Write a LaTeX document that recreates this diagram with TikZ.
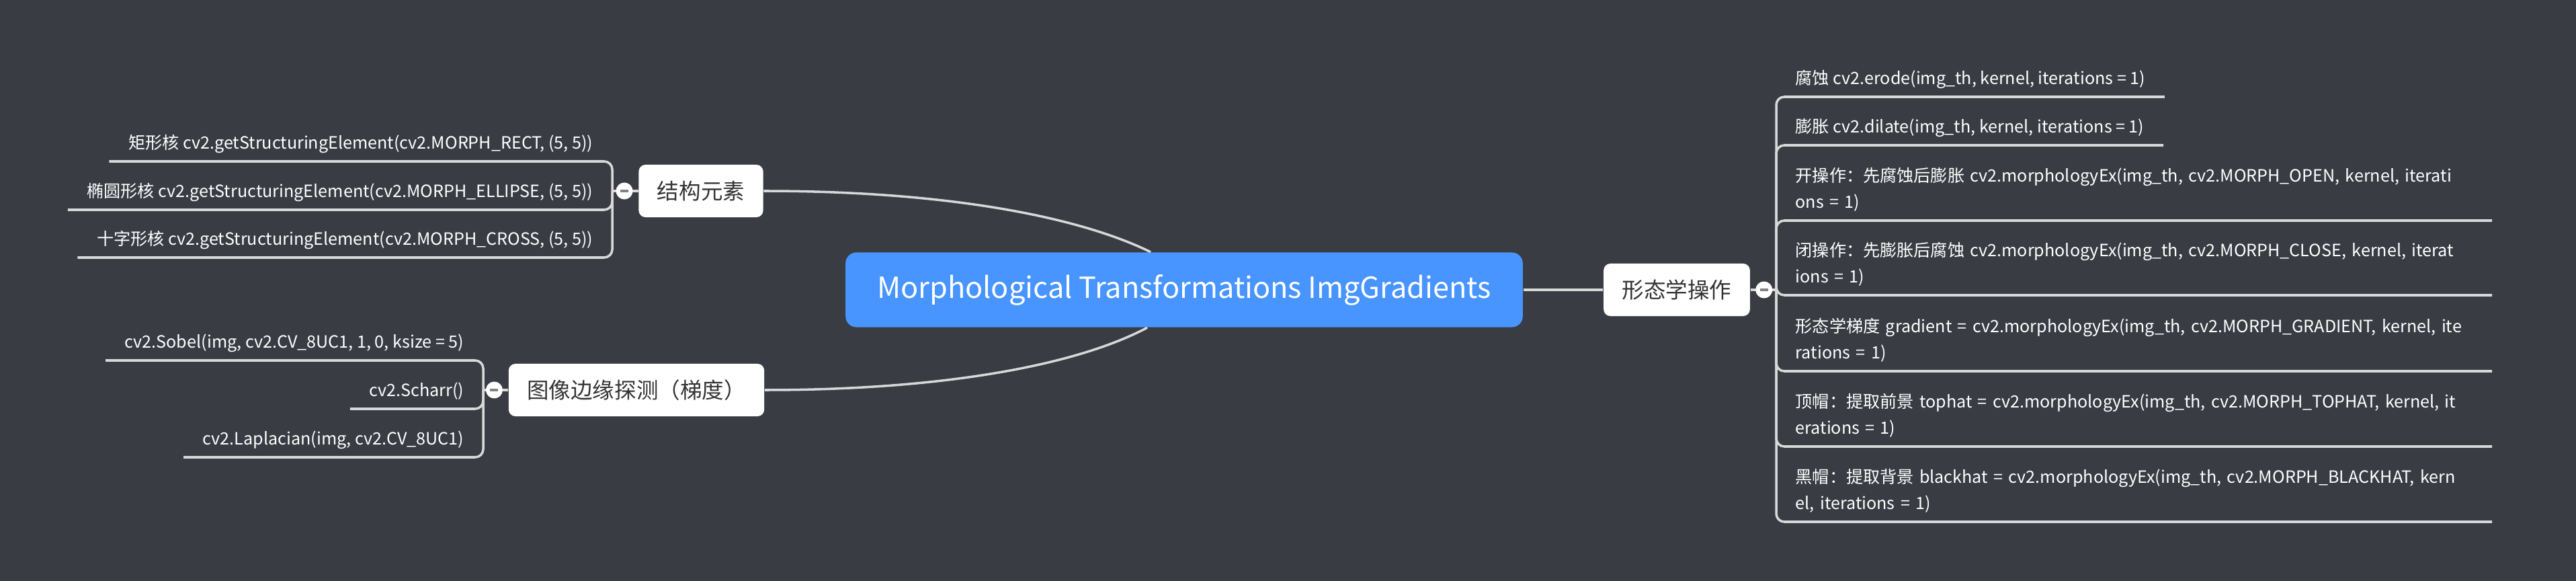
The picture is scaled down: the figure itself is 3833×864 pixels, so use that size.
\documentclass[tikz,border=0pt]{standalone}
\usepackage{fontspec}
\setmainfont{Noto Sans CJK SC}
\usetikzlibrary{positioning}
\usetikzlibrary{calc}

\definecolor{mapback}{RGB}{57,60,66}
\definecolor{mapblue}{RGB}{72,149,255}
\definecolor{mapline}{RGB}{216,216,216}
\definecolor{maptext}{RGB}{51,51,51}
\definecolor{mapfold}{RGB}{130,130,130}
\newcommand{\leafstrut}{\rule[-0.8mm]{0pt}{0.8mm}}

\tikzset{
  rootnode/.style={fill=mapblue, text=white, rounded corners=0.16cm,
    minimum width=10.07cm, minimum height=1.11cm, inner sep=0pt,
    font=\fontsize{12.3}{15}\selectfont},
  hubnode/.style={fill=white, text=maptext, rounded corners=0.1cm,
    minimum height=0.78cm, inner xsep=0.275cm, inner ysep=0pt,
    font=\fontsize{9.25}{11}\selectfont},
  leafnode/.style={text=white, inner xsep=0.28cm, inner ysep=0.094cm,
    align=left, font=\fontsize{7.15}{11.1}\selectfont,
    execute at end node=\leafstrut},
  wideleaf/.style={leafnode, text width=10.07cm},
  branch/.style={draw=mapline, line width=1pt, rounded corners=0.12cm},
  foldmark/.style={circle, fill=white, minimum size=0.25cm, inner sep=0pt,
    path picture={\draw[mapfold, line width=0.9pt]
      ([xshift=-0.06cm]path picture bounding box.center) --
      ([xshift=0.06cm]path picture bounding box.center);}}
}

\begin{document}
\begin{tikzpicture}[x=0.01cm, y=-0.01cm]
  \fill[mapback] (0,0) rectangle (3833,864);

  % centre and the three main branches
  \node[rootnode] (root) at (1762,431) {Morphological Transformations ImgGradients};
  \node[hubnode] (jg) at (1043,284) {结构元素};
  \node[hubnode] (tx) at (947,580) {图像边缘探测（梯度）};
  \node[hubnode] (xt) at (2495,431) {形态学操作};

  \draw[branch] (jg.east) .. controls (1400,284) and (1600,320) .. ($(root.north)+(-50,0)$);
  \draw[branch] (tx.east) .. controls (1400,580) and (1600,544) .. ($(root.south)+(-55,0)$);
  \draw[branch] (root.east) -- (xt.west);

  % structuring elements
  \coordinate (jgv) at (911,284);
  \node[leafnode, anchor=south east] (jg1) at (911,240) {矩形核 cv2.getStructuringElement(cv2.MORPH\_RECT, (5, 5))};
  \node[leafnode, anchor=south east] (jg2) at (911,312) {椭圆形核 cv2.getStructuringElement(cv2.MORPH\_ELLIPSE, (5, 5))};
  \node[leafnode, anchor=south east] (jg3) at (911,383) {十字形核 cv2.getStructuringElement(cv2.MORPH\_CROSS, (5, 5))};
  \draw[branch] (jg.west) -- (jgv);
  \foreach \i in {1,2,3}
    \draw[branch] (jgv) |- (jg\i.south west);
  \node[foldmark, left=0.075cm of jg] (jgfold) {};

  % gradients
  \coordinate (txv) at (719,580);
  \node[leafnode, anchor=south east] (tx1) at (719,536) {cv2.Sobel(img, cv2.CV\_8UC1, 1, 0, ksize = 5)};
  \node[leafnode, anchor=south east] (tx2) at (719,608) {cv2.Scharr()};
  \node[leafnode, anchor=south east] (tx3) at (719,680) {cv2.Laplacian(img, cv2.CV\_8UC1)};
  \draw[branch] (tx.west) -- (txv);
  \foreach \i in {1,2,3}
    \draw[branch] (txv) |- (tx\i.south west);
  \node[foldmark, left=0.075cm of tx] (txfold) {};

  % morphology operations
  \coordinate (xtv) at (2643,431);
  \node[leafnode, anchor=south west] (xt1) at (2643,144) {腐蚀 cv2.erode(img\_th, kernel, iterations = 1)};
  \node[leafnode, anchor=south west] (xt2) at (2643,216) {膨胀 cv2.dilate(img\_th, kernel, iterations = 1)};
  \node[wideleaf, anchor=south west] (xt3) at (2643,328) {开操作：先腐蚀后膨胀 cv2.morphologyEx(img\_th, cv2.MORPH\_OPEN, kernel, iterati\\ons = 1)};
  \node[wideleaf, anchor=south west] (xt4) at (2643,439) {闭操作：先膨胀后腐蚀 cv2.morphologyEx(img\_th, cv2.MORPH\_CLOSE, kernel, iterat\\ions = 1)};
  \node[wideleaf, anchor=south west] (xt5) at (2643,552) {形态学梯度 gradient = cv2.morphologyEx(img\_th, cv2.MORPH\_GRADIENT, kernel, ite\\rations = 1)};
  \node[wideleaf, anchor=south west] (xt6) at (2643,664) {顶帽：提取前景 tophat = cv2.morphologyEx(img\_th, cv2.MORPH\_TOPHAT, kernel, it\\erations = 1)};
  \node[wideleaf, anchor=south west] (xt7) at (2643,776) {黑帽：提取背景 blackhat = cv2.morphologyEx(img\_th, cv2.MORPH\_BLACKHAT, kern\\el, iterations = 1)};
  \draw[branch] (xt.east) -- (xtv);
  \foreach \i in {1,...,7}
    \draw[branch] (xtv) |- (xt\i.south east);
  \node[foldmark, right=0.07cm of xt] (xtfold) {};
\end{tikzpicture}
\end{document}
